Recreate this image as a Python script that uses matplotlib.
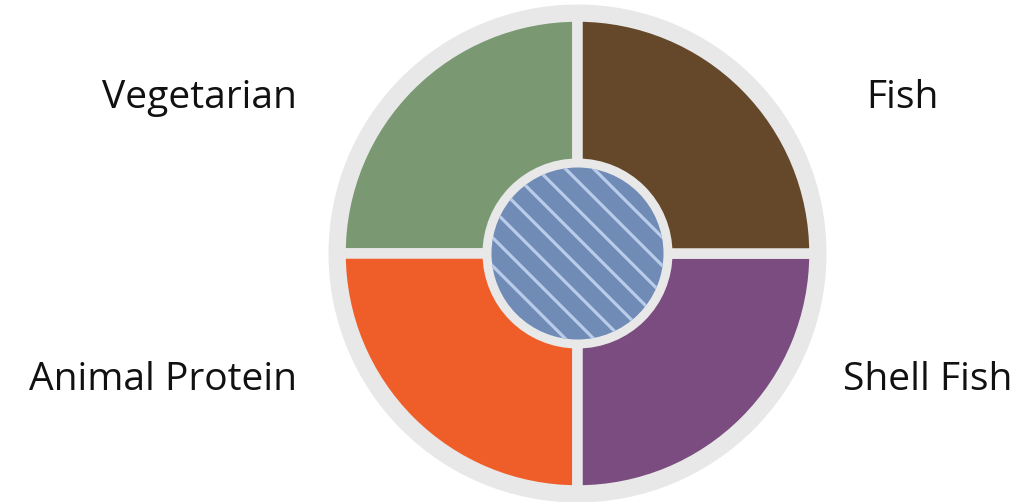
import matplotlib.pyplot as plt
from matplotlib.patches import Circle

# categories, counter-clockwise from the top-left quarter
labels = ["Vegetarian", "Animal Protein", "Shell Fish", "Fish"]
values = [1, 1, 1, 1]
colors = ["#7a9972", "#ef5e28", "#7a4c80", "#65482a"]

# label anchor points (pixels) and alignment
label_x = [297, 297, 843, 866]
label_y = [98, 380, 380, 98]
label_ha = ["right", "right", "left", "left"]

ring = "#e8e8e8"
W, H = 1019, 502
DPI = 85  # lower dpi -> tighter hatch spacing
cx, cy = 577.5, H - 253.5


def pt(px):
    return px * 72 / DPI


plt.rcParams["font.family"] = ["Open Sans", "DejaVu Sans"]
plt.rcParams["hatch.linewidth"] = pt(3.2)

fig = plt.figure(figsize=(W / DPI, H / DPI), dpi=DPI)
ax = fig.add_axes([0, 0, 1, 1])

# outer gray ring
ax.add_patch(Circle((cx, cy), 249, facecolor=ring, edgecolor="none", zorder=1))

wedges, _ = ax.pie(values, colors=colors, startangle=90, counterclock=True,
                   center=(cx, cy), radius=237, frame=True,
                   wedgeprops=dict(edgecolor=ring, linewidth=pt(10.5)))
for w in wedges:
    w.set_zorder(2)
ax.set_xlim(0, W)
ax.set_ylim(0, H)
ax.set_aspect("equal")
ax.axis("off")

# center disc with stripes
ax.add_patch(Circle((cx, cy), 95, facecolor=ring, edgecolor="none", zorder=3))
ax.add_patch(Circle((cx, cy), 86, facecolor="#6f8bb6", edgecolor="#b9cdea",
                    linewidth=0, hatch="\\", zorder=4))

for t, x, y, ha in zip(labels, label_x, label_y, label_ha):
    ax.text(x, H - y, t, ha=ha, va="center", fontsize=pt(39), color="#111111")

fig.savefig("out.png", dpi=DPI)
